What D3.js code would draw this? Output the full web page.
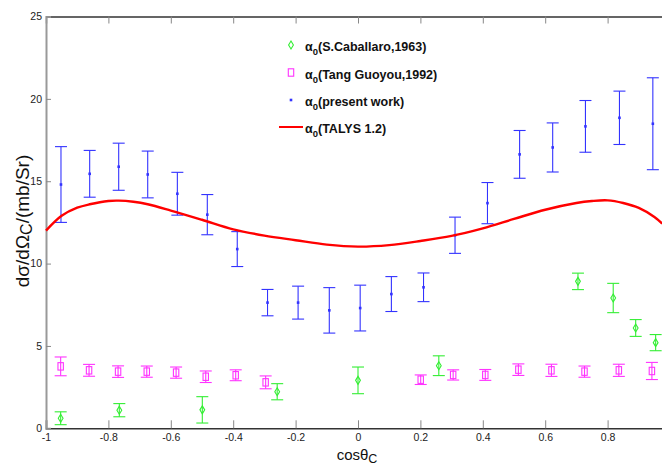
<!DOCTYPE html>
<html>
<head>
<meta charset="utf-8">
<script src="https://cdn.jsdelivr.net/npm/d3@7"></script>
<style>
  body { margin: 0; background: #fff; }
  svg { display: block; }
</style>
</head>
<body>
<svg id="chart" width="662" height="467"></svg>
<script>
// Axis ticks (the plot runs past the right edge, so cos = 1 is not labelled)
const xTicks = [-1, -0.8, -0.6, -0.4, -0.2, 0, 0.2, 0.4, 0.6, 0.8];
const yTicks = [0, 5, 10, 15, 20, 25];

// alpha0 cross sections, S.Caballaro (1963)
const cabCos = [-0.953, -0.765, -0.499, -0.259, 0.0, 0.259, 0.705, 0.818, 0.89, 0.954];
const cabSig = [0.61, 1.1, 1.12, 2.22, 2.91, 3.8, 8.92, 7.91, 6.09, 5.2];
const cabErr = [0.39, 0.4, 0.8, 0.49, 0.81, 0.6, 0.5, 0.89, 0.51, 0.49];

// alpha0 cross sections, Tang Guoyou (1992)
const tangCos = [-0.953, -0.862, -0.769, -0.677, -0.583, -0.488, -0.392, -0.296, 0.201, 0.305, 0.408, 0.514, 0.62, 0.726, 0.836, 0.942];
const tangSig = [3.76, 3.52, 3.44, 3.44, 3.38, 3.13, 3.22, 2.79, 2.95, 3.24, 3.24, 3.56, 3.52, 3.44, 3.52, 3.48];
const tangErr = [0.57, 0.36, 0.35, 0.34, 0.34, 0.35, 0.33, 0.39, 0.29, 0.31, 0.33, 0.35, 0.37, 0.34, 0.37, 0.52];

// alpha0 cross sections, present work
const presCos = [-0.952, -0.86, -0.767, -0.674, -0.579, -0.483, -0.387, -0.29, -0.192, -0.092, 0.007, 0.107, 0.21, 0.311, 0.415, 0.518, 0.624, 0.729, 0.838, 0.945];
const presSig = [14.8, 15.45, 15.88, 15.41, 14.24, 12.97, 10.88, 7.63, 7.63, 7.16, 7.3, 8.15, 8.56, 11.72, 13.67, 16.63, 17.05, 18.33, 18.85, 18.49];
const presErr = [2.3, 1.42, 1.43, 1.42, 1.3, 1.22, 1.06, 0.8, 1.0, 1.38, 1.39, 1.06, 0.87, 1.1, 1.25, 1.45, 1.49, 1.57, 1.62, 2.79];

// TALYS 1.2 calculation
const talysCos = [-1, -0.95, -0.9, -0.86, -0.8, -0.767, -0.72, -0.674, -0.6, -0.5, -0.4, -0.3, -0.2, -0.1, 0, 0.1, 0.2, 0.3, 0.4, 0.5, 0.6, 0.7, 0.75, 0.8, 0.85, 0.9, 0.95, 0.975];
const talysSig = [12.0, 12.9, 13.39, 13.6, 13.8, 13.82, 13.75, 13.6, 13.22, 12.66, 12.08, 11.7, 11.42, 11.15, 11.03, 11.12, 11.37, 11.68, 12.14, 12.71, 13.27, 13.68, 13.8, 13.84, 13.68, 13.38, 12.83, 12.43];

const legendLabels = ["(S.Caballaro,1963)", "(Tang Guoyou,1992)", "(present work)", "(TALYS 1.2)"];

const COL_CAB = "#33ee33";
const COL_TANG = "#ff33ff";
const COL_PRES = "#3333ff";
const COL_TALYS = "#ff0000";

const svg = d3.select("#chart");
const x = d3.scaleLinear().domain([-1, 1]).range([46, 670]);
const y = d3.scaleLinear().domain([0, 25]).range([428.3, 16.5]);

const tickFont = "'Liberation Sans Narrow', 'Liberation Sans', Arial, sans-serif";

// bottom axis
const gx = svg.append("g").attr("transform", `translate(0,${y(0)})`)
  .call(d3.axisBottom(x).tickValues(xTicks).tickSize(-8).tickPadding(5).tickFormat(d => String(d)));
gx.select(".domain").attr("stroke", "#333").attr("stroke-width", 1.6);
gx.selectAll(".tick line").attr("stroke", "#888");
gx.selectAll(".tick text").attr("font-family", tickFont).attr("font-size", 10.5).attr("fill", "#222");

// top axis (ticks only)
const gt = svg.append("g").attr("transform", `translate(0,${y(25)})`)
  .call(d3.axisTop(x).tickValues(xTicks).tickSize(-7).tickFormat(""));
gt.select(".domain").attr("stroke", "#333").attr("stroke-width", 1.3);
gt.selectAll(".tick line").attr("stroke", "#888");

// left axis
const gy = svg.append("g").attr("transform", `translate(${x(-1)},0)`)
  .call(d3.axisLeft(y).tickValues(yTicks).tickSize(-5).tickPadding(4).tickFormat(d => String(d)));
gy.select(".domain").attr("stroke", "#999").attr("stroke-width", 2);
gy.selectAll(".tick line").attr("stroke", "#888");
gy.selectAll(".tick text").attr("font-family", tickFont).attr("font-size", 10.5).attr("fill", "#222");

// error bars
function errorBars(cos, sig, err, color) {
  const g = svg.append("g").attr("stroke", color).attr("stroke-width", 1.1).attr("fill", "none");
  cos.forEach((c, i) => {
    const cx = x(c), top = y(sig[i] + err[i]), bot = y(sig[i] - err[i]);
    g.append("line").attr("x1", cx).attr("x2", cx).attr("y1", top).attr("y2", bot);
    g.append("line").attr("x1", cx - 6).attr("x2", cx + 6).attr("y1", top).attr("y2", top);
    g.append("line").attr("x1", cx - 6).attr("x2", cx + 6).attr("y1", bot).attr("y2", bot);
  });
}

const diamond = (cx, cy) => `M${cx},${cy - 4}L${cx + 2.4},${cy}L${cx},${cy + 4}L${cx - 2.4},${cy}Z`;

errorBars(cabCos, cabSig, cabErr, COL_CAB);
svg.append("g").selectAll("path").data(cabCos).join("path")
  .attr("d", (c, i) => diamond(x(c), y(cabSig[i])))
  .attr("fill", "none").attr("stroke", COL_CAB).attr("stroke-width", 1.1);

errorBars(tangCos, tangSig, tangErr, COL_TANG);
svg.append("g").selectAll("rect").data(tangCos).join("rect")
  .attr("x", c => x(c) - 2.7).attr("y", (c, i) => y(tangSig[i]) - 3.7)
  .attr("width", 5.4).attr("height", 7.4)
  .attr("fill", "none").attr("stroke", COL_TANG).attr("stroke-width", 1.1);

errorBars(presCos, presSig, presErr, COL_PRES);
svg.append("g").selectAll("rect").data(presCos).join("rect")
  .attr("x", c => x(c) - 1.3).attr("y", (c, i) => y(presSig[i]) - 1.3)
  .attr("width", 2.6).attr("height", 2.6).attr("fill", COL_PRES);

// TALYS curve
const line = d3.line().x(d => x(d[0])).y(d => y(d[1])).curve(d3.curveCatmullRom.alpha(0.5));
svg.append("path").datum(talysCos.map((c, i) => [c, talysSig[i]]))
  .attr("d", line).attr("fill", "none").attr("stroke", COL_TALYS).attr("stroke-width", 2.4);

// legend
const legFont = "'Liberation Sans', Arial, sans-serif";
const legY = [45, 72.5, 100, 127];
const lg = svg.append("g");
lg.append("path").attr("d", diamond(291, legY[0])).attr("fill", "none").attr("stroke", COL_CAB).attr("stroke-width", 1.1);
lg.append("rect").attr("x", 288.3).attr("y", legY[1] - 3.7).attr("width", 5.4).attr("height", 7.4)
  .attr("fill", "none").attr("stroke", COL_TANG).attr("stroke-width", 1.1);
lg.append("rect").attr("x", 289.7).attr("y", legY[2] - 1.3).attr("width", 2.6).attr("height", 2.6).attr("fill", COL_PRES);
lg.append("line").attr("x1", 279).attr("x2", 303).attr("y1", legY[3]).attr("y2", legY[3])
  .attr("stroke", COL_TALYS).attr("stroke-width", 2);
legendLabels.forEach((lab, i) => {
  const t = lg.append("text").attr("x", 305).attr("y", legY[i] + 6)
    .attr("font-family", legFont).attr("font-size", 12.5).attr("font-weight", "bold").attr("fill", "#111");
  t.append("tspan").text("α");
  t.append("tspan").attr("dy", 4).attr("font-size", 9.5).text("0");
  t.append("tspan").attr("dy", -4).text(lab);
});

// axis titles
const xt = svg.append("text").attr("x", 357).attr("y", 460).attr("text-anchor", "middle")
  .attr("font-family", legFont).attr("font-size", 15).attr("fill", "#111");
xt.append("tspan").text("cosθ");
xt.append("tspan").attr("dy", 3).attr("font-size", 12.5).text("C");

const yt = svg.append("text").attr("transform", "translate(28.5,221) rotate(-90)").attr("text-anchor", "middle")
  .attr("font-family", legFont).attr("font-size", 19).attr("fill", "#111");
yt.append("tspan").text("dσ/dΩ");
yt.append("tspan").attr("dy", 3).attr("font-size", 16).text("C");
yt.append("tspan").attr("dy", -3).text("/(mb/Sr)");
</script>
</body>
</html>
